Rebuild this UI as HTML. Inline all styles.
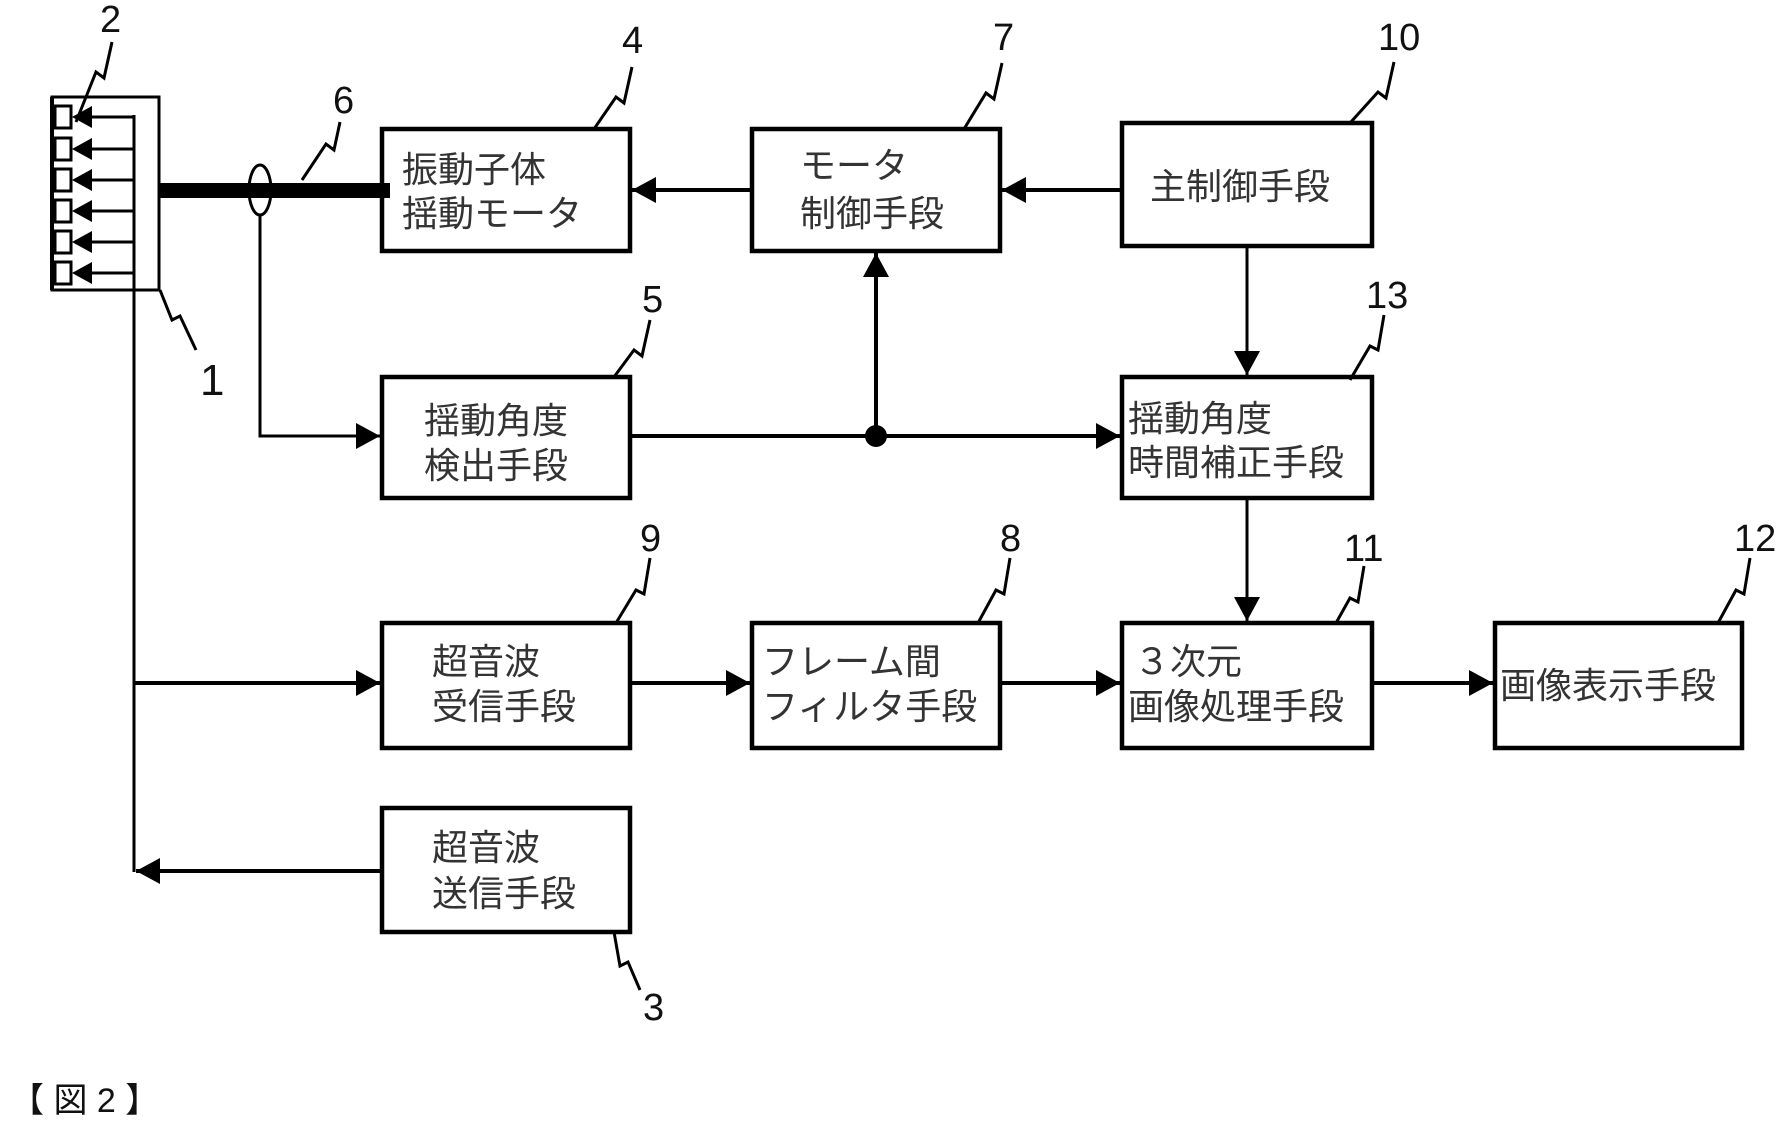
<!DOCTYPE html>
<html><head><meta charset="utf-8"><style>
html,body{margin:0;padding:0;background:#fff;}
svg{display:block;}
text{font-family:"Liberation Sans","Noto Sans CJK JP",sans-serif;}
.j{font-size:36px;fill:#333;}
.n{font-size:38px;fill:#111;}
</style></head><body>
<svg width="1776" height="1128" viewBox="0 0 1776 1128" xmlns="http://www.w3.org/2000/svg">
<defs>
<marker id="a" markerWidth="24" markerHeight="26" refX="10" refY="5" orient="auto" markerUnits="userSpaceOnUse" viewBox="0 0 10 10" preserveAspectRatio="none"><path d="M0,0 L10,5 L0,10 z" fill="#000"/></marker>
</defs>
<g fill="none" stroke="#000" stroke-width="4.5">
<rect x="382" y="129" width="248" height="122"/>
<rect x="752" y="129" width="248" height="122"/>
<rect x="1122" y="123" width="250" height="123"/>
<rect x="382" y="377" width="248" height="121"/>
<rect x="1122" y="377" width="250" height="121"/>
<rect x="382" y="623" width="248" height="125"/>
<rect x="752" y="623" width="248" height="125"/>
<rect x="1122" y="623" width="250" height="125"/>
<rect x="1495" y="623" width="247" height="125"/>
<rect x="382" y="808" width="248" height="124"/>
</g>
<g fill="none" stroke="#000" stroke-width="3">
<rect x="52" y="97" width="107" height="193"/>
<line x1="52" y1="97" x2="52" y2="290" stroke-width="4"/>
</g>
<g fill="#fff" stroke="#000" stroke-width="3">
<rect x="55" y="106" width="16" height="22"/>
<rect x="55" y="138" width="16" height="22"/>
<rect x="55" y="169" width="16" height="22"/>
<rect x="55" y="200" width="16" height="22"/>
<rect x="55" y="231" width="16" height="22"/>
<rect x="55" y="262" width="16" height="22"/>
</g>
<g stroke="#000" stroke-width="3" fill="#000">
<path d="M134,117 H90" /><path d="M72,117 L92,106 L92,128z" stroke="none"/>
<path d="M134,149 H90" /><path d="M72,149 L92,138 L92,160z" stroke="none"/>
<path d="M134,180 H90" /><path d="M72,180 L92,169 L92,191z" stroke="none"/>
<path d="M134,211 H90" /><path d="M72,211 L92,200 L92,222z" stroke="none"/>
<path d="M134,242 H90" /><path d="M72,242 L92,231 L92,253z" stroke="none"/>
<path d="M134,273 H90" /><path d="M72,273 L92,262 L92,284z" stroke="none"/>
</g>
<line x1="134" y1="115" x2="134" y2="872" stroke="#000" stroke-width="3"/>
<rect x="159" y="183" width="231" height="15" fill="#000"/>
<ellipse cx="260" cy="190" rx="11" ry="25" fill="none" stroke="#000" stroke-width="3"/>
<path d="M260,215 V436 H380" fill="none" stroke="#000" stroke-width="3" marker-end="url(#a)"/>
<g fill="none" stroke="#000" stroke-width="4">
<path d="M1122,190 H1002" marker-end="url(#a)"/>
<path d="M752,190 H632" marker-end="url(#a)"/>
<path d="M630,436 H1120" marker-end="url(#a)"/>
<path d="M876,436 V253" marker-end="url(#a)"/>
<path d="M1247,246 V375" stroke-width="3" marker-end="url(#a)"/>
<path d="M1247,498 V621" stroke-width="3" marker-end="url(#a)"/>
<path d="M134,683 H380" marker-end="url(#a)"/>
<path d="M630,683 H750" marker-end="url(#a)"/>
<path d="M1000,683 H1120" marker-end="url(#a)"/>
<path d="M1372,683 H1493" marker-end="url(#a)"/>
<path d="M382,871 H136" marker-end="url(#a)"/>
</g>
<circle cx="876" cy="436" r="11" fill="#000"/>
<g fill="none" stroke="#000" stroke-width="3">
<path d="M112,42 L104,78 L96,72 L76,122"/>
<path d="M632,67 L624,103 L616,97 L594,129"/>
<path d="M340,122 L334,150 L326,144 L302,180"/>
<path d="M1002,63 L994,99 L986,93 L964,129"/>
<path d="M1394,62 L1386,98 L1378,92 L1350,123"/>
<path d="M160,290 L172,320 L180,316 L196,350"/>
<path d="M650,320 L642,356 L634,350 L614,377"/>
<path d="M1384,315 L1378,350 L1370,346 L1350,380"/>
<path d="M650,558 L644,594 L636,590 L616,623"/>
<path d="M1010,558 L1004,594 L996,590 L978,623"/>
<path d="M1364,566 L1358,602 L1350,598 L1336,623"/>
<path d="M1750,558 L1744,594 L1736,590 L1718,623"/>
<path d="M614,932 L620,966 L628,962 L640,990"/>
</g>
<g class="n">
<text x="100" y="32">2</text>
<text x="622" y="53">4</text>
<text x="333" y="113">6</text>
<text x="993" y="50">7</text>
<text x="1378" y="50">10</text>
<text x="200" y="395" font-size="44">1</text>
<text x="642" y="312">5</text>
<text x="1366" y="308">13</text>
<text x="640" y="551">9</text>
<text x="1000" y="551">8</text>
<text x="1344" y="561">11</text>
<text x="1734" y="551">12</text>
<text x="643" y="1020">3</text>
</g>
<g class="j">
<text x="402" y="182">振動子体</text>
<text x="402" y="226">揺動モータ</text>
<text x="800" y="178">モータ</text>
<text x="800" y="226">制御手段</text>
<text x="1150" y="199">主制御手段</text>
<text x="424" y="433">揺動角度</text>
<text x="424" y="478">検出手段</text>
<text x="1128" y="431">揺動角度</text>
<text x="1128" y="475">時間補正手段</text>
<text x="432" y="674">超音波</text>
<text x="432" y="719">受信手段</text>
<text x="762" y="674">フレーム間</text>
<text x="762" y="719">フィルタ手段</text>
<text x="1134" y="674">３次元</text>
<text x="1128" y="719">画像処理手段</text>
<text x="1500" y="698">画像表示手段</text>
<text x="432" y="860">超音波</text>
<text x="432" y="906">送信手段</text>
<text x="10" y="1112" style="font-size:34px;fill:#111">【 図 2 】</text>
</g>
</svg>
</body></html>
